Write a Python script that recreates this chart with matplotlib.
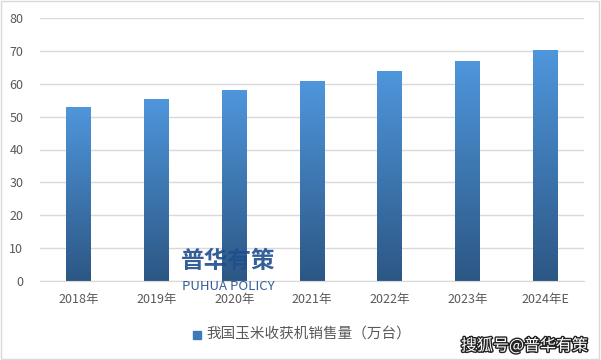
import numpy as np
import matplotlib.pyplot as plt
import matplotlib.patheffects as pe
from matplotlib.colors import LinearSegmentedColormap
from matplotlib.patches import Rectangle

plt.rcParams['font.family'] = ['Noto Sans CJK SC', 'DejaVu Sans']

# 数据
years = ['2018年', '2019年', '2020年', '2021年', '2022年', '2023年', '2024年E']
sales = [53.0, 55.3, 58.1, 60.8, 63.8, 66.9, 70.2]
yticks = [0, 10, 20, 30, 40, 50, 60, 70, 80]

fig = plt.figure(figsize=(6.01, 3.6), dpi=100)
ax = fig.add_axes([40 / 601, 1 - 281 / 360, 544 / 601, 263 / 360])

# 渐变色柱
cmap = LinearSegmentedColormap.from_list('bar', ['#2c5784', '#4f96dc'])
grad = np.linspace(0, 1, 256).reshape(-1, 1)
width = 0.32
x = np.arange(len(years))
bars = ax.bar(x, sales, width=width, color='none', zorder=2)
for b in bars:
    x0, y0 = b.get_x(), b.get_y()
    w, h = b.get_width(), b.get_height()
    im = ax.imshow(grad, cmap=cmap, origin='lower', aspect='auto',
                   extent=[x0, x0 + w, y0, y0 + h], zorder=2)
    clip = Rectangle((x0, y0), w, h, transform=ax.transData)
    im.set_clip_path(clip)

ax.set_xlim(-0.5, len(years) - 0.5)
ax.set_ylim(0, 80)
ax.set_yticks(yticks)
ax.set_xticks(x)
ax.set_xticklabels(years)
ax.grid(axis='y', color='#d9d9d9', linewidth=1, zorder=0)
ax.set_axisbelow(True)
for s in ['top', 'right', 'left']:
    ax.spines[s].set_visible(False)
ax.spines['bottom'].set_color('#d9d9d9')
ax.tick_params(axis='both', length=0, colors='#595959', labelsize=9)
ax.tick_params(axis='y', pad=12)
ax.tick_params(axis='x', pad=9)

# 图例
fig.patches.append(Rectangle((193 / 601, 1 - 339 / 360), 8 / 601, 8 / 360,
                             transform=fig.transFigure, color='#3f7ab8'))
fig.text(206 / 601, 1 - 335 / 360, '我国玉米收获机销售量（万台）',
         fontsize=10.5, color='#595959', va='center', ha='left')

# 水印
fig.text(228 / 601, 1 - 261 / 360, '普华有策', fontsize=17, fontweight='bold',
         color='#1f4e8c', ha='center', va='center', alpha=0.9)
fig.text(228 / 601, 1 - 287 / 360, 'PUHUA POLICY', fontsize=9.5,
         color='#1f4e8c', ha='center', va='center', alpha=0.9)
fig.text(588 / 601, 1 - 346 / 360, '搜狐号@普华有策', fontsize=11.5,
         color='white', ha='right', va='center',
         path_effects=[pe.withStroke(linewidth=2, foreground='#222222')])

# 外框
fig.patches.append(Rectangle((0.002, 0.003), 0.995, 0.994, transform=fig.transFigure,
                             fill=False, edgecolor='#d9d9d9', linewidth=1))

fig.savefig('out.png', dpi=100)
